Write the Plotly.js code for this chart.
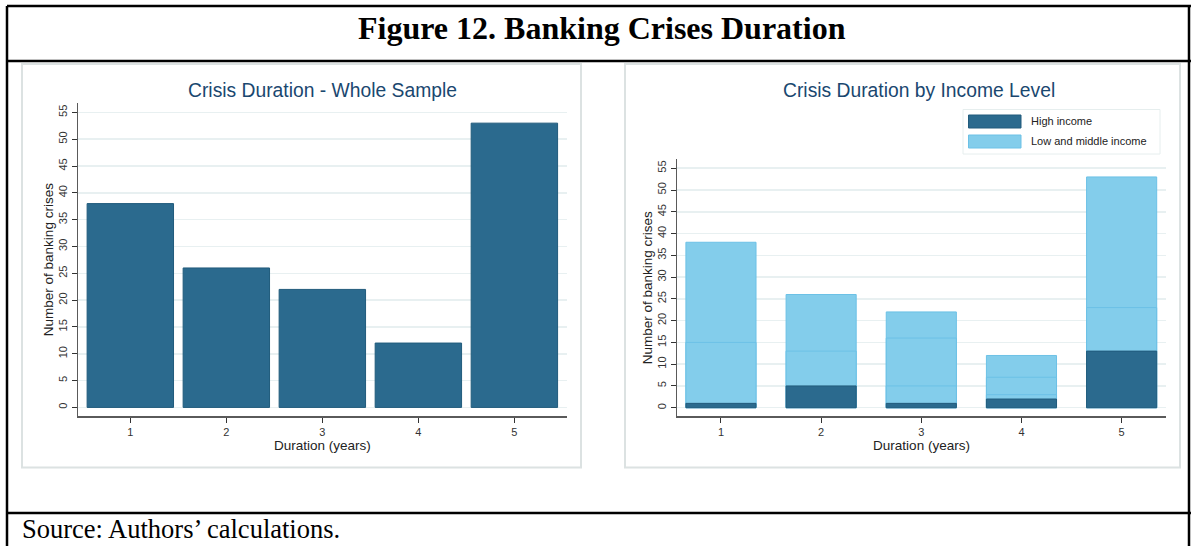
<!DOCTYPE html>
<html>
<head>
<meta charset="utf-8">
<script src="https://cdn.plot.ly/plotly-3.0.1.min.js"></script>
<style>
html,body{margin:0;padding:0;background:#fff;}
#chart{width:1191px;height:546px;}
</style>
</head>
<body>
<div id="chart"></div>
<script>
// ---- data ----
const durationYears = [1, 2, 3, 4, 5];
const tickLabels = ["1", "2", "3", "4", "5"];
const totalCrises = [38, 26, 22, 12, 53];          // whole sample
const highIncomeCrises = [1, 5, 1, 2, 13];         // high income
const lowMidInnerEdgesA = [15, 13, 16, 7, 23];     // faint inner edges visible in the light bars
const lowMidInnerEdgesB = [null, null, 5, 3, null];
const yTickVals = [0, 5, 10, 15, 20, 25, 30, 35, 40, 45, 50, 55];

const W = 1191, H = 546;
const px = x => x / W;
const py = y => 1 - y / H;

const DARK = '#2b6a8e', DARK_LINE = '#215b7c';
const LIGHT = '#83cdeb', LIGHT_LINE = '#6cc1e6';
const GRID = '#e8f0f1', AXIS = '#5a5a5a';
const TITLE_BLUE = '#1a476f';

const traces = [
  {type:'bar', x: durationYears, y: totalCrises, xaxis:'x', yaxis:'y', width:0.9,
   marker:{color:DARK, line:{color:DARK_LINE, width:1}}, showlegend:false, hoverinfo:'x+y'},
  {type:'bar', x: durationYears, y: totalCrises, xaxis:'x2', yaxis:'y2', width:0.7,
   marker:{color:LIGHT, line:{color:LIGHT_LINE, width:1}}, name:'Low and middle income', showlegend:false},
  {type:'bar', x: durationYears, y: lowMidInnerEdgesA, xaxis:'x2', yaxis:'y2', width:0.7,
   marker:{color:LIGHT, line:{color:LIGHT_LINE, width:1}}, showlegend:false, hoverinfo:'skip'},
  {type:'bar', x: durationYears, y: lowMidInnerEdgesB, xaxis:'x2', yaxis:'y2', width:0.7,
   marker:{color:LIGHT, line:{color:LIGHT_LINE, width:1}}, showlegend:false, hoverinfo:'skip'},
  {type:'bar', x: durationYears, y: highIncomeCrises, xaxis:'x2', yaxis:'y2', width:0.7,
   marker:{color:DARK, line:{color:DARK_LINE, width:1}}, name:'High income', showlegend:false}
];

const tickFont = {family:'Liberation Sans, Arial, sans-serif', size:11, color:'#333'};
const axTitleFont = {family:'Liberation Sans, Arial, sans-serif', size:13.5, color:'#222'};

function xAxis(domain, range){
  return {domain, range, tickmode:'array', tickvals: durationYears, ticktext: tickLabels,
    ticks:'outside', ticklen:5, tickcolor:'#333', showline:true, linecolor:AXIS, linewidth:1.5,
    showgrid:false, zeroline:false, tickfont:tickFont, fixedrange:true,
    title:{text:'Duration (years)', font:axTitleFont, standoff:2}};
}
function yAxis(domain, range, anchor){
  return {domain, range, anchor, tickmode:'array', tickvals: yTickVals, tickangle:-90,
    ticks:'outside', ticklen:5, tickcolor:'#333', showline:true, linecolor:AXIS, linewidth:1.5,
    showgrid:true, gridcolor:GRID, gridwidth:1.5, zeroline:false, tickfont:tickFont, fixedrange:true,
    title:{text:'Number of banking crises', font:axTitleFont, standoff:0}};
}

const panelLine = {color:'#dce2e2', width:2};
const blk = {color:'#000', width:2.5};

const layout = {
  width:W, height:H, margin:{l:0,r:0,t:0,b:0},
  paper_bgcolor:'#fff', plot_bgcolor:'#fff',
  barmode:'overlay', showlegend:false,
  xaxis: Object.assign(xAxis([px(78), px(566.7)], [0.455, 5.545]), {anchor:'y'}),
  yaxis: yAxis([py(416), py(103.3)], [-1.6, 56.7], 'x'),
  xaxis2: Object.assign(xAxis([px(677.3), px(1165.7)], [0.564, 5.44]), {anchor:'y2'}),
  yaxis2: yAxis([py(416), py(159.3)], [-1.9, 57.05], 'x2'),
  shapes: [
    // page frame
    {type:'line', xref:'paper', yref:'paper', x0:px(7), x1:px(1191), y0:py(6), y1:py(6), line:blk},
    {type:'line', xref:'paper', yref:'paper', x0:px(7), x1:px(7), y0:py(6), y1:py(546), line:blk},
    {type:'line', xref:'paper', yref:'paper', x0:px(1189), x1:px(1189), y0:py(6), y1:py(546), line:blk},
    {type:'line', xref:'paper', yref:'paper', x0:px(7), x1:px(1191), y0:py(61), y1:py(61), line:blk},
    {type:'line', xref:'paper', yref:'paper', x0:px(7), x1:px(1191), y0:py(513), y1:py(513), line:blk},
    // chart panels
    {type:'rect', xref:'paper', yref:'paper', x0:px(22), x1:px(581), y0:py(467.5), y1:py(64), line:panelLine},
    {type:'rect', xref:'paper', yref:'paper', x0:px(625), x1:px(1180), y0:py(467.5), y1:py(64), line:panelLine},
    // legend box + swatches
    {type:'rect', xref:'paper', yref:'paper', x0:px(963), x1:px(1160), y0:py(154), y1:py(109.5), line:{color:'#e6eeee', width:1}, fillcolor:'#fff'},
    {type:'rect', xref:'paper', yref:'paper', x0:px(968.5), x1:px(1021), y0:py(128), y1:py(115), line:{color:DARK_LINE, width:1}, fillcolor:DARK},
    {type:'rect', xref:'paper', yref:'paper', x0:px(968.5), x1:px(1021), y0:py(148), y1:py(135), line:{color:LIGHT_LINE, width:1}, fillcolor:LIGHT}
  ],
  annotations: [
    {text:'<b>Figure 12. Banking Crises Duration</b>', xref:'paper', yref:'paper', x:px(602), y:py(28),
     showarrow:false, xanchor:'center', yanchor:'middle',
     font:{family:'Liberation Serif, Times New Roman, serif', size:32, color:'#000'}},
    {text:'Source: Authors\u2019 calculations.', xref:'paper', yref:'paper', x:px(20), y:py(529),
     showarrow:false, xanchor:'left', yanchor:'middle',
     font:{family:'Liberation Serif, Times New Roman, serif', size:26.5, color:'#000'}},
    {text:'Crisis Duration - Whole Sample', xref:'paper', yref:'paper', x:px(322), y:py(91),
     showarrow:false, xanchor:'center', yanchor:'middle',
     font:{family:'Liberation Sans, Arial, sans-serif', size:19.3, color:TITLE_BLUE}},
    {text:'Crisis Duration by Income Level', xref:'paper', yref:'paper', x:px(919), y:py(91),
     showarrow:false, xanchor:'center', yanchor:'middle',
     font:{family:'Liberation Sans, Arial, sans-serif', size:19.3, color:TITLE_BLUE}},
    {text:'High income', xref:'paper', yref:'paper', x:px(1029), y:py(121.5),
     showarrow:false, xanchor:'left', yanchor:'middle',
     font:{family:'Liberation Sans, Arial, sans-serif', size:11, color:'#222'}},
    {text:'Low and middle income', xref:'paper', yref:'paper', x:px(1029), y:py(141.5),
     showarrow:false, xanchor:'left', yanchor:'middle',
     font:{family:'Liberation Sans, Arial, sans-serif', size:11, color:'#222'}}
  ]
};

Plotly.newPlot('chart', traces, layout, {displayModeBar:false, staticPlot:true});
</script>
</body>
</html>
